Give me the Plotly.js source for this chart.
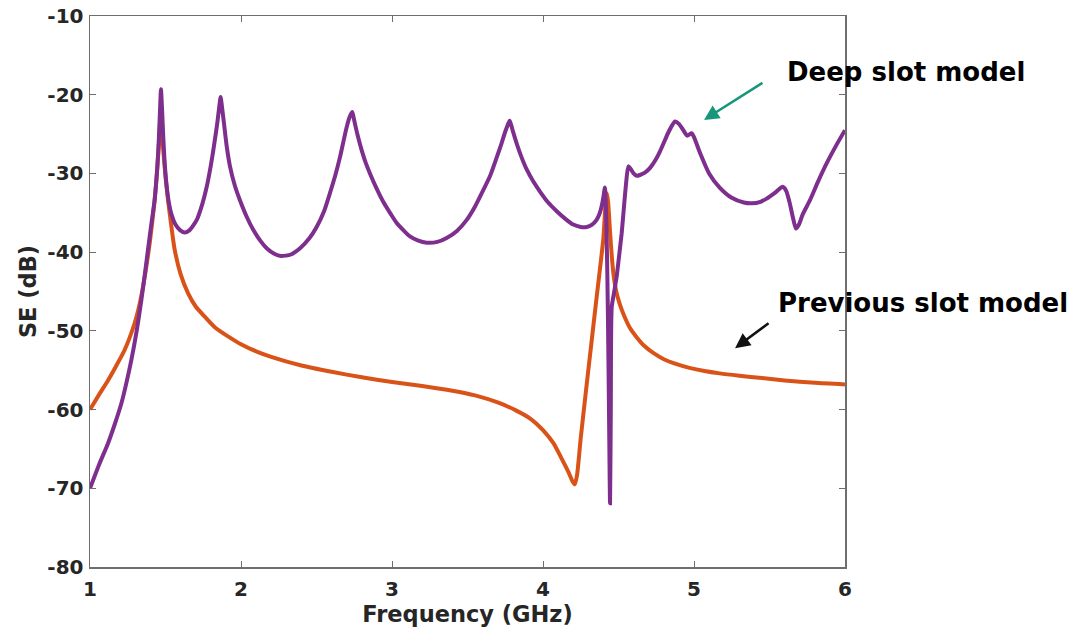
<!DOCTYPE html>
<html>
<head>
<meta charset="utf-8">
<script src="https://cdn.plot.ly/plotly-3.0.1.min.js"></script>
<style>html,body{margin:0;padding:0;background:#fff;}#chart{width:1069px;height:630px;}</style>
</head>
<body>
<div id="chart"></div>
<script>
// Previous slot model (orange)
var prevFreq = [1.00,1.06,1.119,1.175,1.23,1.296,1.325,1.351,1.375,1.395,1.412,1.428,1.445,1.458,1.466,1.475,1.485,1.50,1.517,1.54,1.561,1.60,1.649,1.70,1.76,1.83,1.914,2.00,2.10,2.20,2.40,2.60,2.80,3.00,3.20,3.40,3.55,3.70,3.82,3.92,4.00,4.07,4.12,4.17,4.195,4.21,4.225,4.25,4.30,4.35,4.40,4.413,4.422,4.431,4.444,4.455,4.468,4.485,4.51,4.54,4.575,4.62,4.67,4.73,4.80,4.88,4.97,5.07,5.17,5.30,5.45,5.60,5.80,6.00];
var prevSE = [-60.0,-58.1,-56.3,-54.4,-52.4,-49.0,-46.9,-44.4,-41.6,-38.9,-36.2,-33.4,-29.5,-25.8,-23.2,-24.4,-27.0,-30.4,-33.4,-36.9,-39.7,-42.8,-45.2,-46.9,-48.2,-49.6,-50.7,-51.7,-52.6,-53.3,-54.4,-55.2,-55.9,-56.5,-57.0,-57.6,-58.2,-59.1,-60.1,-61.2,-62.6,-64.3,-66.1,-68.0,-69.1,-69.5,-68.4,-63.6,-55.0,-46.6,-38.2,-34.2,-32.5,-33.6,-37.4,-40.4,-43.0,-45.0,-46.7,-48.2,-49.6,-50.8,-51.9,-52.8,-53.6,-54.2,-54.7,-55.1,-55.4,-55.7,-56.0,-56.3,-56.6,-56.8];

// Deep slot model (purple)
var deepFreq = [1.00,1.06,1.119,1.165,1.208,1.24,1.274,1.31,1.34,1.362,1.384,1.405,1.428,1.443,1.452,1.46,1.466,1.470,1.477,1.485,1.495,1.508,1.523,1.541,1.566,1.596,1.627,1.66,1.707,1.745,1.773,1.80,1.817,1.831,1.843,1.855,1.865,1.875,1.887,1.905,1.927,1.96,1.993,2.04,2.082,2.13,2.17,2.22,2.265,2.33,2.391,2.45,2.501,2.55,2.589,2.625,2.656,2.68,2.70,2.72,2.737,2.747,2.757,2.777,2.80,2.825,2.854,2.90,2.942,2.99,3.031,3.08,3.119,3.17,3.23,3.30,3.362,3.43,3.495,3.55,3.605,3.65,3.693,3.725,3.748,3.765,3.779,3.79,3.80,3.826,3.855,3.892,3.935,3.98,4.03,4.091,4.15,4.2,4.25,4.289,4.325,4.355,4.375,4.388,4.40,4.41,4.42,4.43,4.438,4.444,4.449,4.455,4.47,4.488,4.505,4.521,4.535,4.55,4.565,4.58,4.60,4.62,4.642,4.675,4.709,4.745,4.775,4.80,4.83,4.855,4.874,4.90,4.929,4.955,4.984,5.00,5.04,5.10,5.17,5.25,5.33,5.382,5.44,5.481,5.54,5.587,5.61,5.632,5.655,5.675,5.695,5.72,5.768,5.82,5.879,5.94,6.00];
var deepSE = [-70.0,-67.0,-64.3,-61.8,-59.2,-56.7,-53.7,-49.9,-46.1,-43.0,-39.7,-36.6,-33.4,-30.0,-27.2,-23.8,-20.8,-19.3,-21.8,-25.3,-28.8,-31.7,-33.8,-35.3,-36.5,-37.2,-37.5,-37.2,-35.9,-33.8,-31.7,-29.0,-27.0,-25.2,-23.6,-21.7,-20.3,-21.7,-23.6,-26.5,-29.1,-31.6,-33.4,-35.6,-37.2,-38.6,-39.5,-40.2,-40.5,-40.3,-39.5,-38.3,-36.8,-34.8,-32.5,-30.2,-27.9,-25.8,-24.1,-22.8,-22.2,-23.0,-23.9,-25.5,-27.1,-28.6,-30.0,-32.0,-33.6,-35.1,-36.3,-37.3,-38.0,-38.5,-38.8,-38.7,-38.2,-37.3,-35.9,-34.2,-32.1,-30.3,-28.0,-26.2,-24.8,-23.9,-23.3,-23.9,-24.6,-26.2,-27.8,-29.5,-31.0,-32.3,-33.6,-34.8,-35.8,-36.5,-36.8,-36.8,-36.5,-35.9,-35.1,-34.2,-33.0,-31.8,-36.5,-48.0,-62.0,-71.9,-60.0,-47.0,-45.2,-43.1,-40.3,-37.6,-34.5,-31.3,-29.1,-29.4,-30.0,-30.3,-30.2,-29.9,-29.3,-28.3,-27.2,-26.1,-24.8,-23.9,-23.4,-23.7,-24.5,-25.2,-24.9,-25.4,-27.4,-30.0,-31.8,-33.1,-33.7,-33.8,-33.6,-33.2,-32.4,-31.7,-32.2,-33.6,-35.6,-37.0,-36.5,-35.2,-33.4,-31.1,-28.7,-26.5,-24.5];

var xTicks = [1,2,3,4,5,6];
var yTicks = [-80,-70,-60,-50,-40,-30,-20,-10];

var tickFont = {family: 'DejaVu Sans', size: 20, color: '#262626', weight: 'bold'};
var titleFont = {family: 'DejaVu Sans', size: 22.5, color: '#262626', weight: 'bold'};

var traces = [
  {x: prevFreq, y: prevSE, type: 'scatter', mode: 'lines', name: 'Previous slot model',
   line: {color: '#D95319', width: 4, shape: 'spline', smoothing: 0.6}},
  {x: deepFreq, y: deepSE, type: 'scatter', mode: 'lines', name: 'Deep slot model',
   line: {color: '#7E2F8E', width: 4, shape: 'spline', smoothing: 0.6}}
];

var axisCommon = {
  showgrid: false, zeroline: false, showline: true, linecolor: '#6e6e6e', linewidth: 1.5,
  mirror: 'ticks', ticks: 'inside', ticklen: 6, tickwidth: 1, tickcolor: '#6e6e6e',
  tickfont: tickFont
};

var layout = {
  width: 1069, height: 630,
  margin: {l: 90, r: 224, t: 16, b: 63},
  paper_bgcolor: '#ffffff', plot_bgcolor: '#ffffff',
  showlegend: false,
  xaxis: Object.assign({}, axisCommon, {
    range: [1, 6], tickvals: xTicks, ticktext: xTicks.map(String),
    ticklabelstandoff: 3,
    title: {text: 'Frequency (GHz)', font: titleFont, standoff: 1}
  }),
  yaxis: Object.assign({}, axisCommon, {
    range: [-80, -10], tickvals: yTicks, ticktext: yTicks.map(String),
    ticklabelstandoff: 1,
    title: {text: 'SE (dB)', font: titleFont, standoff: 4}
  }),
  annotations: [
    {x: 5.603, y: -17.1, xref: 'x', yref: 'y', text: 'Deep slot model', showarrow: false,
     xanchor: 'left', yanchor: 'middle', font: {family: 'DejaVu Sans', size: 26, color: '#000', weight: 600}},
    {x: 5.543, y: -46.5, xref: 'x', yref: 'y', text: 'Previous slot model', showarrow: false,
     xanchor: 'left', yanchor: 'middle', font: {family: 'DejaVu Sans', size: 26, color: '#000', weight: 600}},
    {x: 5.066, y: -23.2, xref: 'x', yref: 'y', text: '', showarrow: true, ax: 60, ay: -38,
     arrowhead: 2, arrowsize: 1.2, arrowwidth: 2.5, arrowcolor: '#17977A'},
    {x: 5.272, y: -52.2, xref: 'x', yref: 'y', text: '', showarrow: true, ax: 35, ay: -26,
     arrowhead: 2, arrowsize: 1.2, arrowwidth: 2.5, arrowcolor: '#111111'}
  ]
};

Plotly.newPlot('chart', traces, layout, {displayModeBar: false, staticPlot: true});
</script>
</body>
</html>
